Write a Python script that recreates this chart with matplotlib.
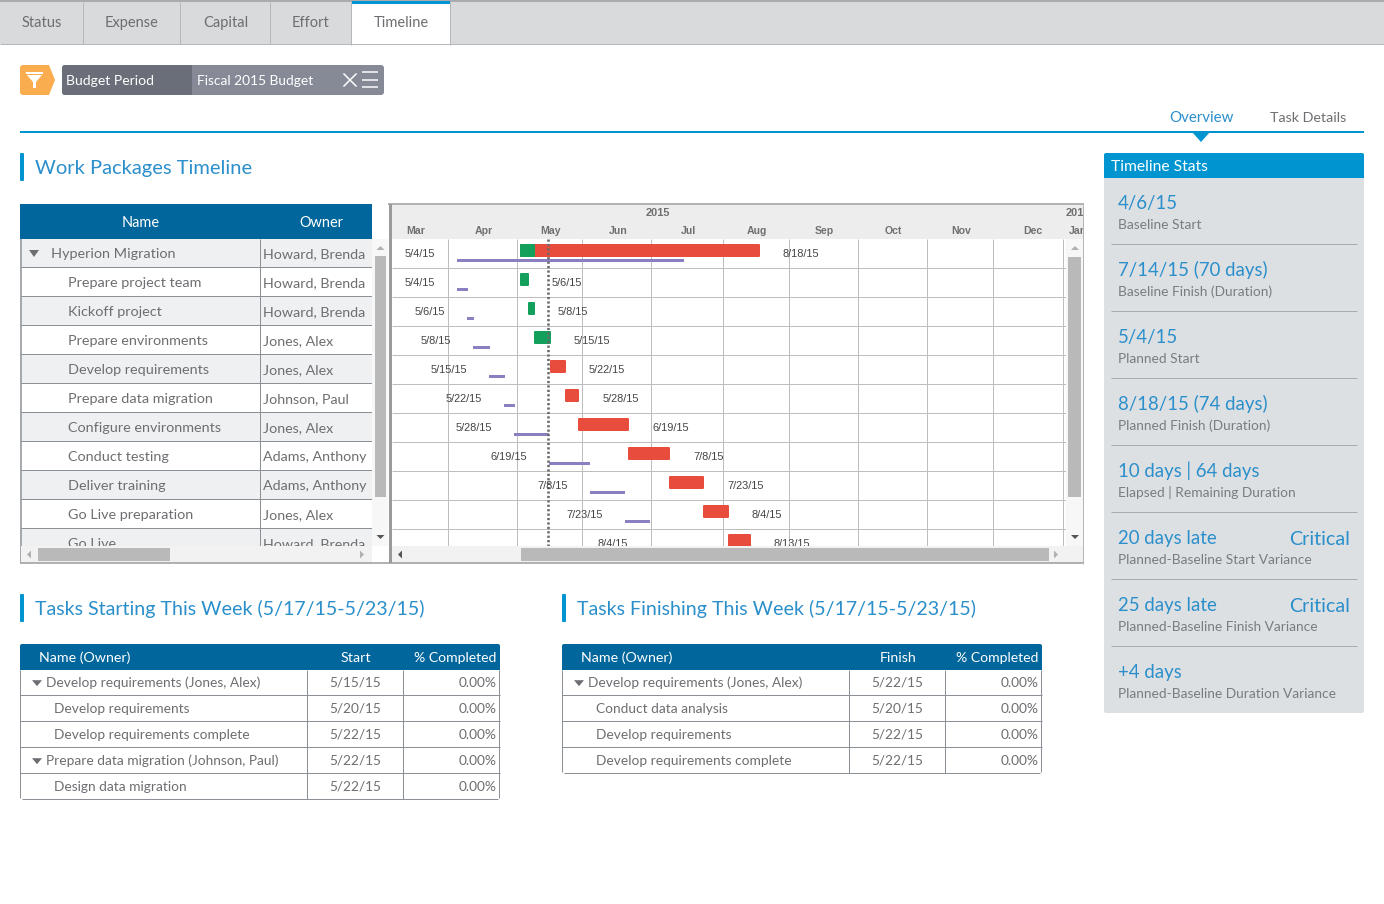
import matplotlib
matplotlib.use('Agg')
import matplotlib.pyplot as plt
import matplotlib.dates as mdates
import pandas as pd
from matplotlib.patches import Rectangle, FancyBboxPatch, Polygon

plt.rcParams['font.family'] = ['Lato', 'DejaVu Sans']

W, H = 1384, 904
px = 0.72  # css px to points at dpi 100

# Data
tabs = ['Status', 'Expense', 'Capital', 'Effort', 'Timeline']
tasks = ['Hyperion Migration', 'Prepare project team', 'Kickoff project', 'Prepare environments',
         'Develop requirements', 'Prepare data migration', 'Configure environments', 'Conduct testing',
         'Deliver training', 'Go Live preparation', 'Go Live']
owners = ['Howard, Brenda', 'Howard, Brenda', 'Howard, Brenda', 'Jones, Alex', 'Jones, Alex', 'Johnson, Paul',
          'Jones, Alex', 'Adams, Anthony', 'Adams, Anthony', 'Jones, Alex', 'Howard, Brenda']

planned_start = ['2015-05-01 20:00', '2015-05-01 20:00', '2015-05-05 08:00', '2015-05-08 00:00',
                 '2015-05-15 00:00', '2015-05-21 14:00', '2015-05-27 08:00', '2015-06-18 10:00',
                 '2015-07-06 10:00', '2015-07-21 10:00', '2015-08-01 10:00']
planned_finish = ['2015-08-15 12:00', '2015-05-05 18:00', '2015-05-08 10:00', '2015-05-15 10:00',
                  '2015-05-22 00:00', '2015-05-27 20:00', '2015-06-18 20:00', '2015-07-06 22:00',
                  '2015-07-21 20:00', '2015-08-01 20:00', '2015-08-11 12:00']
bar_state = ['late', 'ok', 'ok', 'ok', 'late', 'late', 'late', 'late', 'late', 'late', 'late']
summary_done_until = '2015-05-08 10:00'
baseline_start = ['2015-04-04 00:00', '2015-04-04 00:00', '2015-04-08 10:00', '2015-04-11 02:00',
                  '2015-04-18 02:00', '2015-04-24 18:00', '2015-04-29 02:00', '2015-05-14 14:00',
                  '2015-06-01 14:00', '2015-06-17 00:00', '2015-06-28 00:00']
baseline_finish = ['2015-07-13 00:00', '2015-04-08 22:00', '2015-04-11 12:00', '2015-04-18 14:00',
                   '2015-04-25 05:00', '2015-04-29 14:00', '2015-05-14 14:00', '2015-06-01 14:00',
                   '2015-06-17 00:00', '2015-06-28 00:00', '2015-07-14 00:00']
start_labels = ['5/4/15', '5/4/15', '5/6/15', '5/8/15', '5/15/15', '5/22/15', '5/28/15', '6/19/15',
                '7/8/15', '7/23/15', '8/4/15']
finish_labels = ['8/18/15', '5/6/15', '5/8/15', '5/15/15', '5/22/15', '5/28/15', '6/19/15', '7/8/15',
                 '7/23/15', '8/4/15', '8/13/15']
today = '2015-05-14 08:00'
grid_dates = ['2015-03-31 06:00', '2015-04-30 14:00', '2015-05-29 06:00', '2015-06-28 14:00',
              '2015-07-30 08:00', '2015-08-28 10:00', '2015-09-27 20:00', '2015-10-28 06:00',
              '2015-11-26 08:00', '2015-12-27 00:00']
months = ['Mar', 'Apr', 'May', 'Jun', 'Jul', 'Aug', 'Sep', 'Oct', 'Nov', 'Dec', 'Jan']
month_dates = ['2015-03-17 00:00', '2015-04-15 16:00', '2015-05-15 10:00', '2015-06-14 00:00',
               '2015-07-15 00:00', '2015-08-14 05:00', '2015-09-13 00:00', '2015-10-13 08:00',
               '2015-11-12 00:00', '2015-12-13 12:00', '2016-01-02 12:00']
years = ['2015', '2016']
year_dates = ['2015-07-01 10:00', '2016-01-02 14:00']

stat_values = ['4/6/15', '7/14/15 (70 days)', '5/4/15', '8/18/15 (74 days)', '10 days | 64 days',
               '20 days late', '25 days late', '+4 days']
stat_flags = ['', '', '', '', '', 'Critical', 'Critical', '']
stat_labels = ['Baseline Start', 'Baseline Finish (Duration)', 'Planned Start', 'Planned Finish (Duration)',
               'Elapsed | Remaining Duration', 'Planned-Baseline Start Variance',
               'Planned-Baseline Finish Variance', 'Planned-Baseline Duration Variance']

start_names = ['Develop requirements (Jones, Alex)', 'Develop requirements', 'Develop requirements complete',
               'Prepare data migration (Johnson, Paul)', 'Design data migration']
start_dates = ['5/15/15', '5/20/15', '5/22/15', '5/22/15', '5/22/15']
start_done = ['0.00%', '0.00%', '0.00%', '0.00%', '0.00%']
start_parent = [True, False, False, True, False]
finish_names = ['Develop requirements (Jones, Alex)', 'Conduct data analysis', 'Develop requirements',
                'Develop requirements complete']
finish_dates = ['5/22/15', '5/20/15', '5/22/15', '5/22/15']
finish_done = ['0.00%', '0.00%', '0.00%', '0.00%']
finish_parent = [True, False, False, False]

# Colors
BLUE = '#0095d0'
TITLE = '#2a8fcb'
NAVY = '#00669b'
GREY_TXT = '#6d6e71'
LINE = '#8b9097'
GREEN = '#12a05c'
RED = '#e84c3d'
PURPLE = '#8a7fc0'
SCROLL = '#b9b9b9'

# the small extra stops 9.04*100 truncating to a 903px canvas
fig = plt.figure(figsize=(W / 100, H / 100 + 1e-6), dpi=100, facecolor='white')


def pixel_axes(z):
    a = fig.add_axes([0, 0, 1, 1], zorder=z)
    a.set_xlim(0, W)
    a.set_ylim(H, 0)
    a.axis('off')
    return a


bg = pixel_axes(1)


def rect(a, x0, y0, x1, y1, color, **kw):
    a.add_patch(Rectangle((x0, y0), x1 - x0, y1 - y0, facecolor=color, edgecolor='none', **kw))


def rrect(a, x0, y0, x1, y1, fc, ec='none', r=3, lw=0):
    a.add_patch(FancyBboxPatch((x0 + r, y0 + r), x1 - x0 - 2 * r, y1 - y0 - 2 * r,
                               boxstyle='round,pad=%d,rounding_size=%d' % (r, r),
                               facecolor=fc, edgecolor=ec, linewidth=lw))


def txt(a, x, y, s, size, color=GREY_TXT, ha='left', **kw):
    # y is the text middle, shared baseline so descenders don't move it
    a.text(x, y + 0.34 * size, s, fontsize=size * px, color=color, ha=ha, va='baseline', **kw)


def hline(a, x0, x1, y, color=LINE, lw=1):
    a.plot([x0, x1], [y, y], color=color, lw=lw * px, solid_capstyle='butt')


def vline(a, x, y0, y1, color=LINE, lw=1):
    a.plot([x, x], [y0, y1], color=color, lw=lw * px, solid_capstyle='butt')


def tri_down(a, x, y, w, h, color):
    a.add_patch(Polygon([(x - w / 2, y - h / 2), (x + w / 2, y - h / 2), (x, y + h / 2)], facecolor=color, edgecolor='none'))


def tri_up(a, x, y, w, h, color):
    a.add_patch(Polygon([(x - w / 2, y + h / 2), (x + w / 2, y + h / 2), (x, y - h / 2)], facecolor=color, edgecolor='none'))


def tri_left(a, x, y, w, h, color):
    a.add_patch(Polygon([(x + w / 2, y - h / 2), (x + w / 2, y + h / 2), (x - w / 2, y)], facecolor=color, edgecolor='none'))


def tri_right(a, x, y, w, h, color):
    a.add_patch(Polygon([(x - w / 2, y - h / 2), (x - w / 2, y + h / 2), (x + w / 2, y)], facecolor=color, edgecolor='none'))


# Tab strip
rect(bg, 0, 2, W, 44, '#d9dadc')
rect(bg, 0, 0, W, 2, '#a9abae')
hline(bg, 0, W, 44, '#b5b7ba')
tab_x = [41.5, 132, 225.5, 310.5, 401]
for x in [83, 180, 270]:
    vline(bg, x, 2, 44, '#b5b7ba')
rect(bg, 352, 1, 450, 46, 'white')
rect(bg, 352, 1, 450, 4, BLUE)
vline(bg, 351, 2, 45, '#b5b7ba')
vline(bg, 450, 2, 45, '#b5b7ba')
for x, t in zip(tab_x, tabs):
    txt(bg, x, 22, t, 14.6, ha='center')

# Filter chip
bg.add_patch(Polygon([(20, 67), (22, 65), (49, 65), (55, 80), (49, 95), (22, 95), (20, 93)], facecolor='#f9ad4e', edgecolor='none'))
bg.add_patch(Polygon([(27, 75), (42, 75), (36, 82), (36, 88), (33, 88), (33, 82)], facecolor='white', edgecolor='none'))
rect(bg, 26, 72, 43, 74, 'white')
rrect(bg, 62, 65, 384, 95, '#858a96')
rrect(bg, 62, 65, 200, 95, '#696e78')
rect(bg, 192, 65, 203, 95, '#858a96')
txt(bg, 66, 80, 'Budget Period', 14, 'white')
txt(bg, 197, 80, 'Fiscal 2015 Budget', 13.8, 'white')
bg.plot([344, 356], [74, 86], color='white', lw=1.5 * px)
bg.plot([344, 356], [86, 74], color='white', lw=1.5 * px)
for y in [72, 80, 87]:
    hline(bg, 362, 378, y, 'white', 1.5)

# Overview / details nav
hline(bg, 20, 1364, 132, BLUE, 2)
bg.add_patch(Polygon([(1192, 132), (1210, 132), (1201, 142)], facecolor=BLUE, edgecolor='none'))
txt(bg, 1201.5, 117, 'Overview', 15, TITLE, ha='center')
txt(bg, 1308, 117, 'Task Details', 14.2, ha='center')

# Section titles
for x, y, s, size in [(20, 167, 'Work Packages Timeline', 20.1),
                      (20, 608, 'Tasks Starting This Week (5/17/15-5/23/15)', 19.7),
                      (562, 608, 'Tasks Finishing This Week (5/17/15-5/23/15)', 19.65)]:
    rrect(bg, x, y - 14, x + 4, y + 14, BLUE, r=1)
    txt(bg, x + 15, y, s, size, TITLE)

# Left tree table
rect(bg, 20, 204, 372, 239, NAVY)
txt(bg, 141, 222, 'Name', 14.5, 'white', ha='center')
txt(bg, 321, 222, 'Owner', 14.5, 'white', ha='center')
for i, (t, o) in enumerate(zip(tasks, owners)):
    y0 = 239 + 29 * i
    if i % 2 == 0:
        rect(bg, 21, y0, 372, y0 + 29, '#eff0f2')
    hline(bg, 21, 372, y0 + 28)
    cy = y0 + 14.5
    if i == 0:
        tri_down(bg, 34, cy, 10, 7, GREY_TXT)
        txt(bg, 51, cy, t, 14.35)
    else:
        txt(bg, 68, cy, t, 14.35)
    txt(bg, 263, cy, o, 14.3)
vline(bg, 260, 239, 546)
vline(bg, 21, 239, 563, '#8b9097', 1.5)

# Gantt chart on a date axis
row0_mid = 253.5  # middle of first row, px from top
gx0, gx1, gy0, gy1 = 392, 1083, 205, 563
ax = fig.add_axes([gx0 / W, 1 - gy1 / H, (gx1 - gx0) / W, (gy1 - gy0) / H], zorder=2, facecolor='white')
for s in ax.spines.values():
    s.set_visible(False)
ax.set_xticks([])
ax.set_yticks([])
rows = list(range(len(tasks)))
ax.set_ylim((gy1 - row0_mid) / 29, (gy0 - row0_mid) / 29)
ax.set_xlim(mdates.date2num(pd.Timestamp('2015-03-06 10:00')), mdates.date2num(pd.Timestamp('2016-01-04 19:00')))


def d(values):
    return mdates.date2num(pd.to_datetime(values))


days_per_px = 1 / 2.27
head_bottom = (239 - row0_mid) / 29
ax.axhspan((gy0 - row0_mid) / 29, head_bottom, color='#ededed', lw=0, zorder=1)
ax.vlines(d(grid_dates), head_bottom, 10.6, color='#bdbdbd', lw=px, zorder=2)
ax.hlines([r + 0.5 for r in rows], d(['2015-03-06 10:00'])[0], d(['2016-01-04 19:00'])[0], color='#bdbdbd', lw=px, zorder=2)

p0, p1 = d(planned_start), d(planned_finish)
b0, b1 = d(baseline_start), d(baseline_finish)
# edge stroke gives the rounded corners, so pull the rect in by 1px each side
pad = days_per_px
colors = [RED if st == 'late' else GREEN for st in bar_state]
ax.barh([r - 0.103 for r in rows], p1 - p0 - 2 * pad, left=p0 + pad, height=11 / 29,
        color=colors, edgecolor=colors, linewidth=2 * px, joinstyle='round', zorder=3)
ax.barh(-0.103, d([summary_done_until])[0] - p0[0] - 2 * pad, left=p0[0] + pad, height=11 / 29,
        color=GREEN, edgecolor=GREEN, linewidth=2 * px, joinstyle='round', zorder=3)
ax.barh([r + 0.241 for r in rows], b1 - b0, left=b0, height=3 / 29, color=PURPLE, linewidth=0, zorder=3)
ax.vlines(d([today]), head_bottom, 10.6, color='#6a6a6a', lw=2.6 * px, linestyles=(0, (0.85, 0.85)), zorder=4)

for r in rows:
    ax.annotate(start_labels[r], (b0[r], r), xytext=(-22 * px, 0), textcoords='offset points', ha='right',
                va='center', fontsize=11 * px, color='#444444', family='Liberation Sans', zorder=5, annotation_clip=False)
    ax.annotate(finish_labels[r], (p1[r], r), xytext=(23 * px, 0), textcoords='offset points', ha='left',
                va='center', fontsize=11 * px, color='#444444', family='Liberation Sans', zorder=5, annotation_clip=False)

month_y = (231 - row0_mid) / 29
year_y = (212.5 - row0_mid) / 29
for m, dt in zip(months, d(month_dates)):
    ax.text(dt, month_y, m, ha='center', va='center', fontsize=10.5 * px, fontweight='bold', color='#707070',
            family='Liberation Sans', clip_on=True, zorder=5)
for y, dt in zip(years, d(year_dates)):
    ax.text(dt, year_y, y, ha='center', va='center', fontsize=11 * px, fontweight='bold', color='#707070',
            family='Liberation Sans', clip_on=True, zorder=5)

# Scrollbars and frame on top
top = pixel_axes(3)
rect(top, 21, 546, 372, 563, '#f2f2f2')
rect(top, 372, 239, 388, 546, '#f7f7f7')
rect(top, 372, 205, 388, 239, 'white')
rect(top, 372, 546, 388, 563, 'white')
rect(top, 375, 256, 386, 497, SCROLL)
tri_up(top, 380.5, 248, 8, 4, '#b0b0b0')
tri_down(top, 380.5, 537, 8, 4, '#555555')
rect(top, 38, 548, 170, 561, SCROLL)
tri_left(top, 29, 554.5, 4, 8, '#b0b0b0')
tri_right(top, 362, 554.5, 4, 8, '#b0b0b0')
rect(top, 389, 204, 392, 563, '#9a9a9a')
rect(top, 392, 546, 1083, 563, '#f2f2f2')
rect(top, 1066, 239, 1083, 546, '#f7f7f7')
rect(top, 1068, 257, 1081, 497, SCROLL)
tri_up(top, 1075, 248, 8, 4, '#b0b0b0')
tri_down(top, 1075, 537, 8, 4, '#555555')
rect(top, 521, 548, 1049, 561, SCROLL)
tri_left(top, 400, 554.5, 4, 8, '#555555')
tri_right(top, 1056, 554.5, 4, 8, '#b0b0b0')
hline(top, 20, 1084, 563, '#9a9a9a', 1.5)
hline(top, 388, 1084, 204, '#9a9a9a', 1.5)
vline(top, 1083, 204, 564, '#b5b5b5')

# Stats panel
rrect(bg, 1104, 153, 1364, 713, '#dde0e3', r=2)
rrect(bg, 1104, 153, 1364, 178, BLUE, r=2)
rect(bg, 1104, 170, 1364, 178, BLUE)
txt(bg, 1111, 165.5, 'Timeline Stats', 15.6, 'white')
for i in range(len(stat_values)):
    y = 203 + 67 * i
    txt(bg, 1118, y, stat_values[i], 18.6, TITLE)
    if stat_flags[i]:
        txt(bg, 1350, y, stat_flags[i], 19.8, TITLE, ha='right')
    txt(bg, 1118, y + 21, stat_labels[i], 13.8, '#7a7d80')
    if i < len(stat_values) - 1:
        hline(bg, 1111, 1357, y + 41, '#a9acaf')


# Weekly tables
def week_table(x0, col2, names, dates, done, parent):
    x1 = x0 + 480
    rrect(bg, x0, 644, x1, 672, NAVY, r=2)
    txt(bg, x0 + 19, 657, 'Name (Owner)', 14.3, 'white')
    txt(bg, x0 + 336, 657, col2, 14.3, 'white', ha='center')
    txt(bg, x1 - 4, 657, '% Completed', 14, 'white', ha='right')
    rect(bg, x0, 670, x1, 672, 'white')
    y_end = 669 + 26 * len(names)
    for i in range(len(names)):
        cy = 682.2 + 26 * i
        if parent[i]:
            tri_down(bg, x0 + 17, cy + 1, 10, 6, GREY_TXT)
            txt(bg, x0 + 26, cy, names[i], 13.75)
        else:
            txt(bg, x0 + 34, cy, names[i], 13.75)
        txt(bg, x0 + 335.5, cy, dates[i], 13.6, ha='center')
        txt(bg, x1 - 3.5, cy, done[i], 13.75, ha='right')
        if i < len(names) - 1:
            hline(bg, x0, x1, 669 + 26 * (i + 1))
    vline(bg, x0 + 287, 670, y_end)
    vline(bg, x0 + 383, 670, y_end)
    hline(bg, x0 + 2, x1 - 2, y_end)
    vline(bg, x0, 670, y_end - 1)
    vline(bg, x1 - 1, 670, y_end - 1)


week_table(20, 'Start', start_names, start_dates, start_done, start_parent)
week_table(562, 'Finish', finish_names, finish_dates, finish_done, finish_parent)

fig.savefig('out.png', dpi=100, facecolor='white')
